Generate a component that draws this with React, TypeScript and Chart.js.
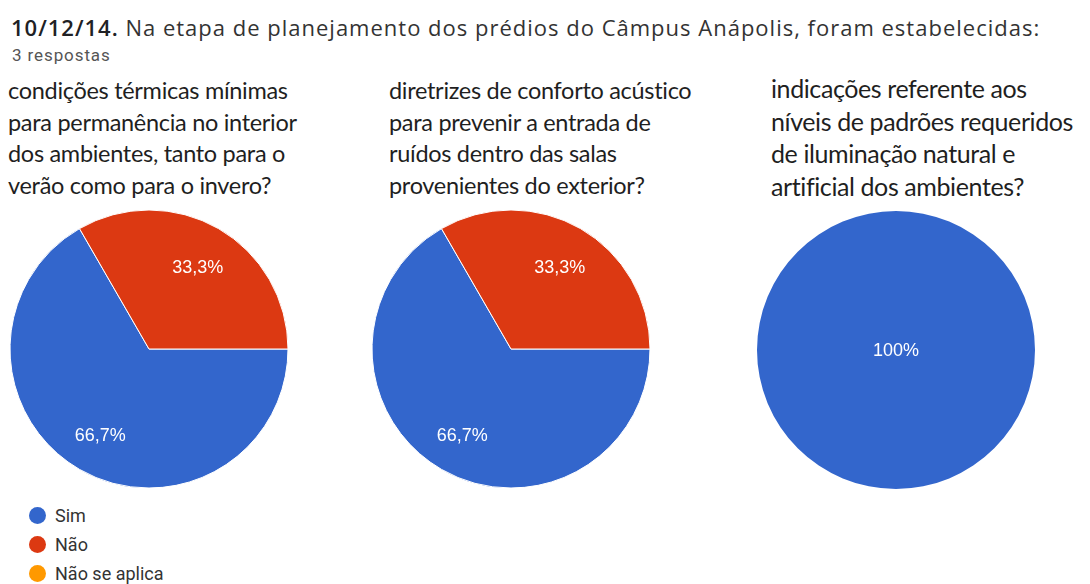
import React, { useEffect, useRef } from "react";
import { Chart, registerables } from "chart.js";

Chart.register(...registerables);

const pageTitleNumber = "10/12/14.";
const pageTitle = " Na etapa de planejamento dos prédios do Câmpus Anápolis, foram estabelecidas:";
const responsesText = "3 respostas";
const answerLabels = ["Sim", "Não", "Não se aplica"];
const answerColors = ["#3366cc", "#dc3912", "#ff9900"];

const q1Title = ["condições térmicas mínimas", "para permanência no interior", "dos ambientes, tanto para o", "verão como para o invero?"];
const q2Title = ["diretrizes de conforto acústico", "para prevenir a entrada de", "ruídos dentro das salas", "provenientes do exterior?"];
const q3Title = ["indicações referente aos", "níveis de padrões requeridos", "de iluminação natural e", "artificial dos ambientes?"];

const q1Values = [2, 1, 0];
const q2Values = [2, 1, 0];
const q3Values = [3, 0, 0];

const fmtPct = (v: number, total: number) => {
  const p = (v / total) * 100;
  if (Math.abs(p - Math.round(p)) < 1e-9) return `${Math.round(p)}%`;
  return `${p.toFixed(1).replace(".", ",")}%`;
};

const pctLabelPlugin = {
  id: "pctLabels",
  afterDatasetsDraw(chart: any) {
    const ctx = chart.ctx;
    const ds = chart.data.datasets[0];
    const values: number[] = ds.data;
    const total = values.reduce((a, b) => a + b, 0);
    const meta = chart.getDatasetMeta(0);
    ctx.save();
    ctx.fillStyle = "#ffffff";
    ctx.font = "18px 'Liberation Sans', Arial, sans-serif";
    ctx.textAlign = "center";
    ctx.textBaseline = "middle";
    meta.data.forEach((arc: any, i: number) => {
      const v = values[i];
      if (!v) return;
      const { x, y, startAngle, endAngle, outerRadius } = arc.getProps(["x", "y", "startAngle", "endAngle", "outerRadius"], true);
      const text = fmtPct(v, total);
      if (v === total) {
        ctx.fillText(text, x, y + 1);
        return;
      }
      const mid = (startAngle + endAngle) / 2;
      const r = outerRadius * 0.7;
      ctx.fillText(text, x + Math.cos(mid) * r, y + Math.sin(mid) * r + 3);
    });
    ctx.restore();
  },
};

function Pie({ values, left, top }: { values: number[]; left: number; top: number }) {
  const ref = useRef<HTMLCanvasElement>(null);
  useEffect(() => {
    if (!ref.current) return;
    const chart = new Chart(ref.current, {
      type: "pie",
      data: {
        labels: answerLabels,
        datasets: [
          {
            data: values,
            backgroundColor: answerColors,
            borderColor: "#ffffff",
            borderWidth: values.filter((v) => v > 0).length > 1 ? 1 : 0,
            radius: 139,
          } as any,
        ],
      },
      options: {
        animation: false,
        responsive: false,
        rotation: 90,
        layout: { padding: 0 },
        events: [],
        plugins: { legend: { display: false }, tooltip: { enabled: false } },
      },
      plugins: [pctLabelPlugin],
    });
    return () => chart.destroy();
  }, [values]);
  return (
    <canvas
      ref={ref}
      width={300}
      height={300}
      style={{ position: "absolute", left, top, width: 300, height: 300 }}
    />
  );
}

function QTitle({ lines, left, top, size, lh, ls }: { lines: string[]; left: number; top: number; size: number; lh: number; ls: number }) {
  return (
    <div
      style={{
        position: "absolute",
        left,
        top,
        fontFamily: "Lato, sans-serif",
        fontSize: size,
        lineHeight: `${lh}px`,
        color: "#1f1f1f",
        whiteSpace: "nowrap",
        letterSpacing: ls,
      }}
    >
      {lines.map((l, i) => (
        <div key={i}>{l}</div>
      ))}
    </div>
  );
}

export default function App() {
  return (
    <div style={{ position: "absolute", left: 0, top: 0, width: 1090, height: 584, background: "#fff", overflow: "hidden" }}>
      <div
        style={{
          position: "absolute",
          left: 11,
          top: 15,
          fontFamily: "'Open Sans', sans-serif",
          fontSize: 22,
          lineHeight: "24px",
          letterSpacing: 1,
          color: "#333",
          whiteSpace: "nowrap",
        }}
      >
        <span style={{ color: "#202124", fontWeight: 600 }}>{pageTitleNumber}</span>
        {pageTitle}
      </div>
      <div
        style={{
          position: "absolute",
          left: 12,
          top: 45,
          fontFamily: "Roboto, sans-serif",
          fontSize: 17,
          lineHeight: "20px",
          letterSpacing: 0.9,
          color: "#555",
          whiteSpace: "nowrap",
        }}
      >
        {responsesText}
      </div>
      <QTitle lines={q1Title} left={8} top={75} size={23.5} lh={31.5} ls={-0.3} />
      <QTitle lines={q2Title} left={389} top={75} size={23.5} lh={31.5} ls={-0.3} />
      <QTitle lines={q3Title} left={771} top={72} size={25} lh={32.5} ls={-0.4} />
      <Pie values={q1Values} left={149 - 150} top={349 - 150} />
      <Pie values={q2Values} left={511 - 150} top={349 - 150} />
      <Pie values={q3Values} left={896 - 150} top={350 - 150} />
      <div style={{ position: "absolute", left: 29, top: 501, fontFamily: "Roboto, sans-serif", fontSize: 18, color: "#333" }}>
        {answerLabels.map((l, i) => (
          <div key={l} style={{ display: "flex", alignItems: "center", height: 29 }}>
            <span style={{ display: "inline-block", width: 17, height: 17, borderRadius: "50%", background: answerColors[i], marginRight: 9 }} />
            <span>{l}</span>
          </div>
        ))}
      </div>
    </div>
  );
}
